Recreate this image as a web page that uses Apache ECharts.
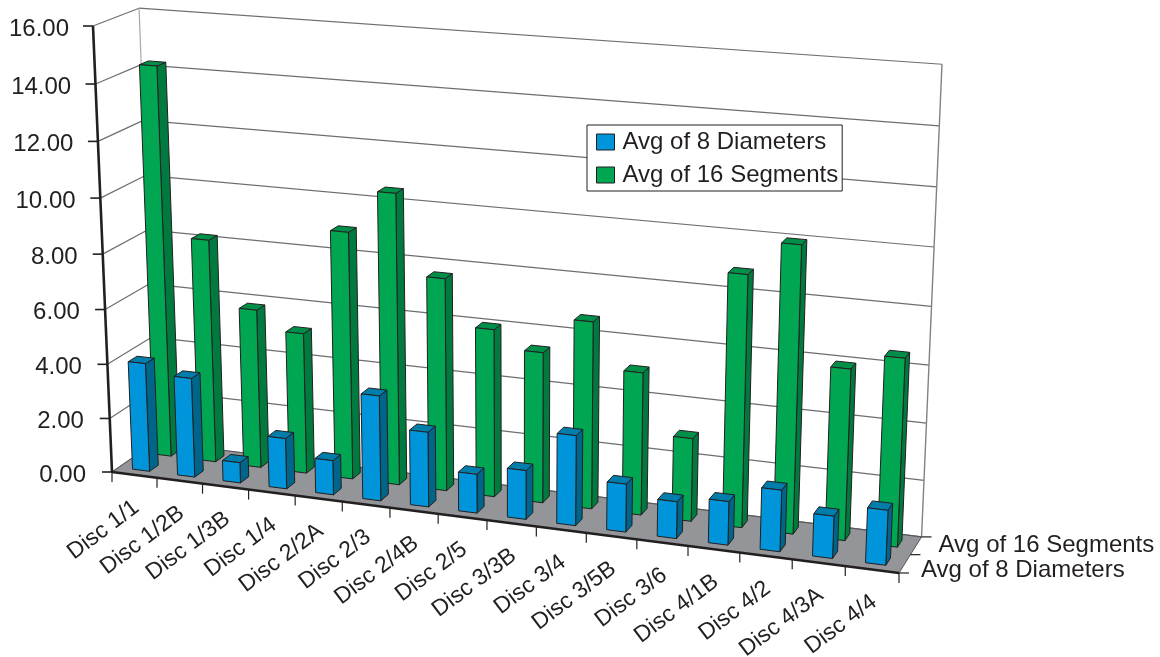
<!DOCTYPE html>
<html>
<head>
<meta charset="utf-8">
<style>html,body{margin:0;padding:0;background:#fff}#chart{width:1160px;height:657px}</style>
<script src="https://cdn.jsdelivr.net/npm/echarts@6/dist/echarts.min.js"></script>
</head>
<body>
<div id="chart"></div>
<script>
// Disc measurements, one value per disc position.
const categories = ['Disc 1/1','Disc 1/2B','Disc 1/3B','Disc 1/4','Disc 2/2A','Disc 2/3','Disc 2/4B','Disc 2/5','Disc 3/3B','Disc 3/4','Disc 3/5B','Disc 3/6','Disc 4/1B','Disc 4/2','Disc 4/3A','Disc 4/4'];
const diameters = [4.0,3.65,0.75,1.85,1.25,3.8,2.7,1.4,1.75,3.2,1.7,1.3,1.53,2.15,1.47,1.9];
const segments = [14.27,8.2,5.83,5.15,8.97,10.5,7.66,6.03,5.4,6.67,5.07,2.95,8.83,10.0,5.97,6.53];
const yTicks = [0,2,4,6,8,10,12,14,16];
const seriesNames = ['Avg of 8 Diameters','Avg of 16 Segments'];

const FONT = '"Liberation Sans", Arial, sans-serif';
const INK = '#231f20';
const GRID = {left: 100, top: 20, width: 800, height: 450};

// Perspective camera for the box: world coordinates run 0..1 along the
// categories (x), the values (y) and the series rows (z).
const O = [112, 472], EX = [899, 573], EY = [93, 26], EZ = [155.5, 442];
const G = [-0.09, -0.045, 0.03];
function project(x, y, z) {
  const w = 1 + G[0] * x + G[1] * y + G[2] * z;
  const comp = k =>
    (O[k] + (EX[k] * (1 + G[0]) - O[k]) * x + (EY[k] * (1 + G[1]) - O[k]) * y + (EZ[k] * (1 + G[2]) - O[k]) * z) / w;
  return [comp(0), comp(1)];
}
// Scale positions from the ECharts axes, as fractions of the grid.
function worldX(api, i) { return (api.coord([i, 0])[0] - GRID.left) / GRID.width; }
function worldY(api, v) { return (GRID.top + GRID.height - api.coord([0, v])[1]) / GRID.height; }

function line(a, b, stroke, lineWidth) {
  return {type: 'line', shape: {x1: a[0], y1: a[1], x2: b[0], y2: b[1]}, style: {stroke, lineWidth, fill: null}};
}
function poly(points, fill, stroke, lineWidth) {
  return {type: 'polygon', shape: {points}, style: {fill, stroke, lineWidth, lineJoin: 'round'}};
}
function label(text, x, y, align, rotation, size) {
  return {type: 'text', x, y, rotation: rotation || 0,
    style: {text, fill: INK, align, verticalAlign: 'middle', font: size + 'px ' + FONT}};
}

function renderWall(params, api) {
  const v = api.value(1), t = worldY(api, v);
  const front = project(0, t, 0), corner = project(0, t, 1), right = project(1, t, 1);
  return {type: 'group', children: [
    line(front, corner, '#6d6e71', 1.2),
    line(corner, right, '#6d6e71', 1.2),
    line([front[0] - 10, front[1]], front, INK, 1.6),
    label(v.toFixed(2), front[0] - 26 + 2 * t, front[1] + 3, 'right', 0, 24)
  ]};
}
function renderFrame() {
  return {type: 'group', children: [
    line(project(0, 0, 1), project(0, 1, 1), '#a7a9ac', 1.2),
    line(project(1, 0, 1), project(1, 1, 1), '#808285', 1.4),
    poly([project(0, 0, 0), project(1, 0, 0), project(1, 0, 1), project(0, 0, 1)], '#939598', null, 0),
    line(project(0, 0, 1), project(1, 0, 1), '#58595b', 1.2),
    line(project(0, 0, 0), project(0, 0, 1), '#58595b', 1),
    line(project(1, 0, 0), project(1, 0, 1), '#58595b', 1),
    line(project(0, 0, 0), project(1, 0, 0), INK, 2.4),
    line(project(0, 0, 0), project(0, 1, 0), INK, 2.6)
  ]};
}
function renderCategory(params, api) {
  const i = params.dataIndex, n = categories.length;
  const mid = worldX(api, i), half = 0.5 / n;
  const a = project(mid - half, 0, 0), b = project(mid + half, 0, 0), c = project(mid, 0, 0);
  const kids = [line([a[0], a[1]], [a[0], a[1] + 10], INK, 1.2)];
  if (i === n - 1) kids.push(line([b[0], b[1]], [b[0], b[1] + 10], INK, 1.2));
  kids.push(label(categories[i], c[0] + 2, c[1] + 30, 'right', 37 * Math.PI / 180, 23));
  return {type: 'group', children: kids};
}
function renderDepth(params) {
  const i = params.dataIndex, z = [0, 0.5, 1];
  const p = project(1, 0, z[i]);
  const kids = [line(p, [p[0] + 10, p[1]], INK, 1.2)];
  if (i === 0) kids.push(label(seriesNames[0], p[0] + 22, p[1] - 3, 'left', 0, 24));
  if (i === 2) kids.push(label(seriesNames[1], p[0] + 17, p[1] + 8, 'left', 0, 24));
  return {type: 'group', children: kids};
}
// One extruded column; row is the centre of its depth slot.
function barRenderer(row, colors) {
  return function (params, api) {
    const n = categories.length;
    const cx = worldX(api, api.value(0)), t = worldY(api, api.value(1));
    const x0 = cx - 0.19 / n, x1 = cx + 0.19 / n, z0 = row - 0.1, z1 = row + 0.1;
    const edge = {stroke: INK, width: 1};
    return {type: 'group', children: [
      poly([project(x1, 0, z0), project(x1, 0, z1), project(x1, t, z1), project(x1, t, z0)], colors.side, edge.stroke, edge.width),
      poly([project(x0, t, z0), project(x1, t, z0), project(x1, t, z1), project(x0, t, z1)], colors.top, edge.stroke, edge.width),
      poly([project(x0, 0, z0), project(x1, 0, z0), project(x1, t, z0), project(x0, t, z0)], colors.front, edge.stroke, edge.width)
    ]};
  };
}

const chart = echarts.init(document.getElementById('chart'), null, {renderer: 'canvas'});
const base = {type: 'custom', animation: false, silent: true, clip: false, encode: {x: 0, y: 1}};
chart.setOption({
  backgroundColor: '#ffffff',
  animation: false,
  grid: GRID,
  xAxis: {type: 'category', data: categories, show: false},
  yAxis: {type: 'value', min: 0, max: 16, interval: 2, show: false},
  legend: {
    data: seriesNames, orient: 'vertical', left: 587, top: 125, selectedMode: false,
    padding: [5, 4, 4, 9], itemGap: 9, itemWidth: 18, itemHeight: 16, icon: 'rect',
    backgroundColor: '#ffffff', borderColor: INK, borderWidth: 1, borderRadius: 0,
    itemStyle: {borderColor: INK, borderWidth: 1},
    textStyle: {color: INK, fontSize: 24, fontFamily: FONT, padding: [0, 0, 0, 3]}
  },
  series: [
    Object.assign({}, base, {name: 'walls', data: yTicks.map(v => [0, v]), renderItem: renderWall}),
    Object.assign({}, base, {name: 'frame', data: [[0, 0]], renderItem: renderFrame}),
    Object.assign({}, base, {name: 'categories', data: categories.map((c, i) => [i, 0]), renderItem: renderCategory}),
    Object.assign({}, base, {name: 'rows', data: [[0, 0], [0, 0], [0, 0]], renderItem: renderDepth}),
    Object.assign({}, base, {name: seriesNames[1], itemStyle: {color: '#00a651'},
      data: segments.map((v, i) => [i, v]),
      renderItem: barRenderer(0.75, {front: '#00a651', top: '#008f48', side: '#007a3f'})}),
    Object.assign({}, base, {name: seriesNames[0], itemStyle: {color: '#0095da'},
      data: diameters.map((v, i) => [i, v]),
      renderItem: barRenderer(0.25, {front: '#0095da', top: '#007eab', side: '#00658a'})})
  ]
});
</script>
</body>
</html>
